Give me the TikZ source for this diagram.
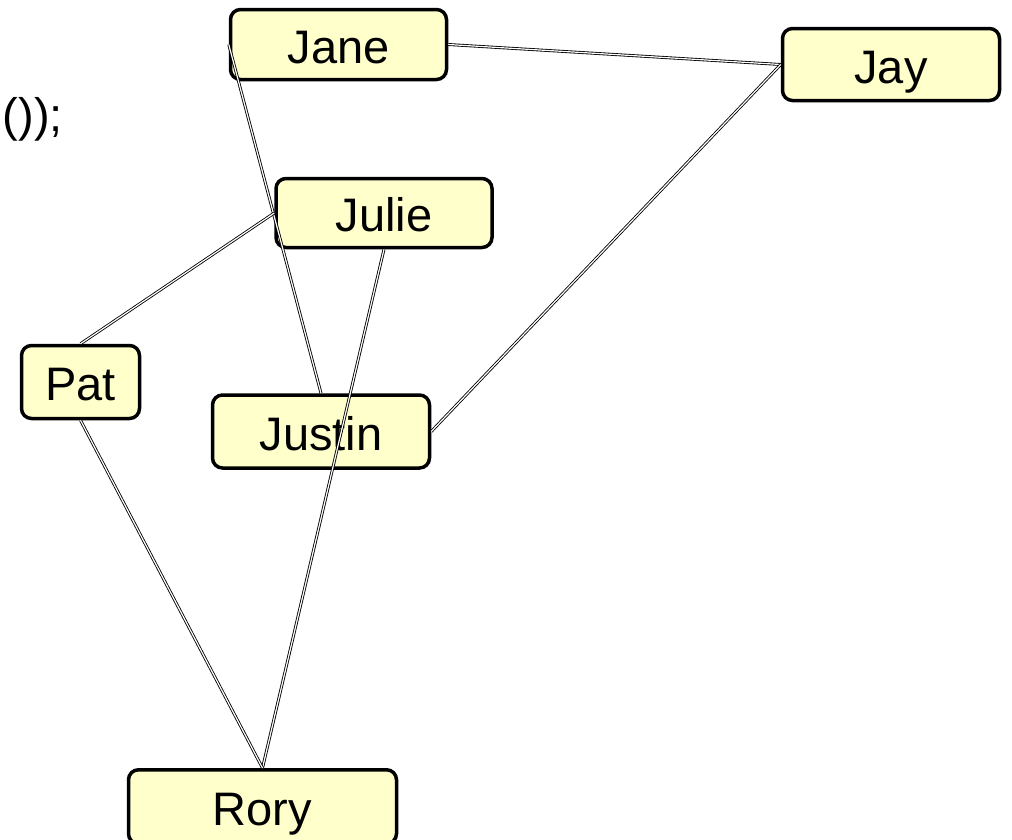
\documentclass[tikz,border=0pt]{standalone}
\usepackage{fontspec}
\setmainfont{Liberation Sans}
\definecolor{nodefill}{HTML}{FFFFCC}
\tikzset{
  person/.style={draw=black, line width=3.5pt, fill=nodefill, rounded corners=10pt,
    inner sep=0pt, text height=37.5pt, text depth=0pt,
    font=\fontsize{47}{56}\selectfont},
  link/.style={draw=black, line width=0.85pt, double=white, double distance=1.2pt}
}
\begin{document}
\begin{tikzpicture}[x=1pt,y=-1pt]
\useasboundingbox (0,0) rectangle (1012,839);
\clip (0,0) rectangle (1012,839);

% stray code fragment at the left edge
\node[anchor=base east, inner sep=0pt, font=\fontsize{47}{56}\selectfont] (frag) at (63,131) {());};

% people
\node[person, minimum width=216pt, minimum height=70pt] (jane) at (338.5,44.5) {Jane};
\node[person, minimum width=217pt, minimum height=72pt] (jay) at (891,64.5) {Jay};
\node[person, minimum width=216pt, minimum height=69pt] (julie) at (384,213) {Julie};
\node[person, minimum width=118pt, minimum height=73pt] (pat) at (80.5,382) {Pat};
\node[person, minimum width=217pt, minimum height=73pt] (justin) at (321,431.5) {Justin};
\node[person, minimum width=268pt, minimum height=74pt, anchor=north] (rory) at (262.5,768) {Rory};

% relations
\draw[link] (jane.east) -- (jay.west);
\draw[link] (jane.west) -- (justin.north);
\draw[link] (julie.west) -- (pat.north);
\draw[link] (julie.south) -- (rory.north);
\draw[link] (pat.south) -- (rory.north);
\draw[link] (justin.east) -- (jay.west);
\end{tikzpicture}
\end{document}
